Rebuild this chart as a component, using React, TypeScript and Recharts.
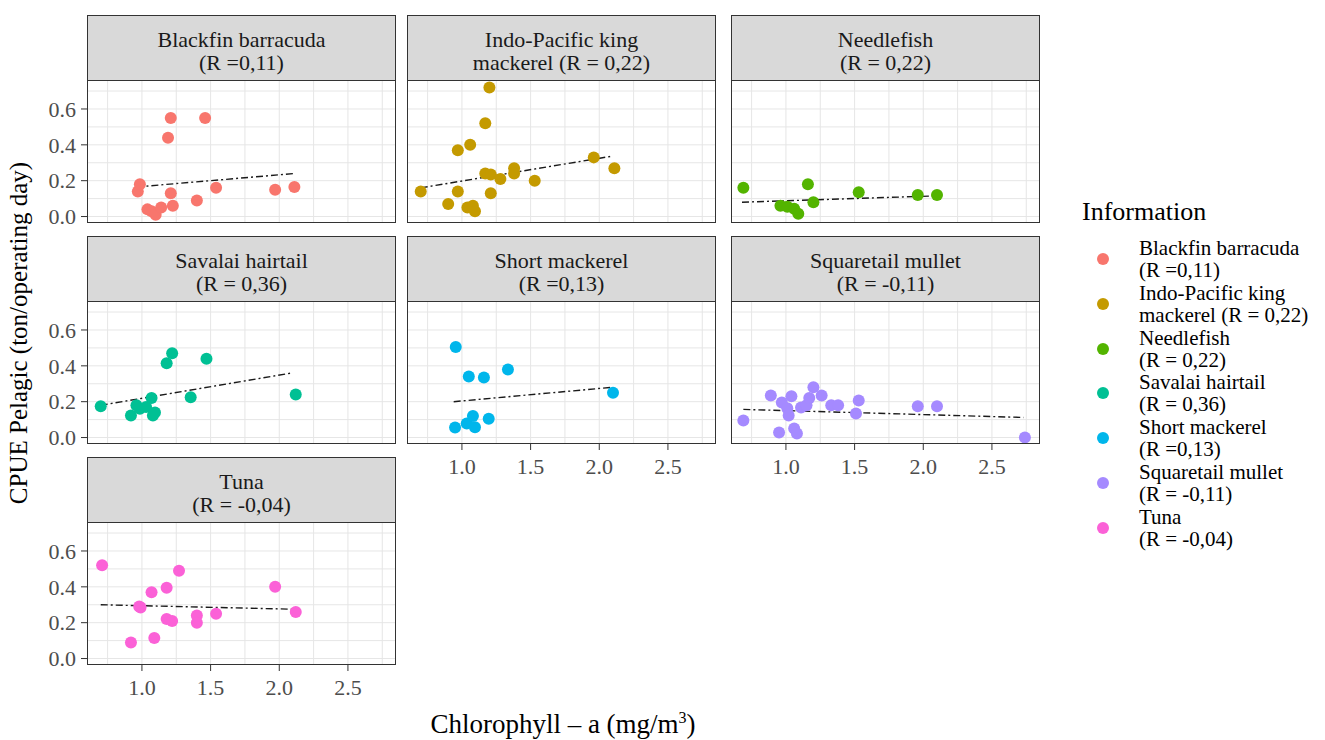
import {
  CartesianGrid,
  ReferenceLine,
  Scatter,
  ScatterChart,
  XAxis,
  YAxis,
} from "recharts";

// ggplot2 default hue palette, 7 levels
const COLORS = ["#F8766D", "#C49A00", "#53B400", "#00C094", "#00B6EB", "#A58AFF", "#FB61D7"];
const SERIF = '"Liberation Serif", "Times New Roman", serif';

const SPECIES = [
  "Blackfin barracuda",
  "Indo-Pacific king mackerel",
  "Needlefish",
  "Savalai hairtail",
  "Short mackerel",
  "Squaretail mullet",
  "Tuna",
];
// strip labels (two lines each, wrapped as in the figure)
const STRIP_LINES = [
  ["Blackfin barracuda", "(R =0,11)"],
  ["Indo-Pacific king", "mackerel (R = 0,22)"],
  ["Needlefish", "(R = 0,22)"],
  ["Savalai hairtail", "(R = 0,36)"],
  ["Short mackerel", "(R =0,13)"],
  ["Squaretail mullet", "(R = -0,11)"],
  ["Tuna", "(R = -0,04)"],
];

// chlorophyll-a (x) and CPUE (y)
const barracudaX = [0.97, 0.985, 1.04, 1.07, 1.1, 1.14, 1.19, 1.21, 1.21, 1.225, 1.4, 1.46, 1.54, 1.97, 2.11];
const barracudaY = [0.14, 0.18, 0.04, 0.03, 0.01, 0.05, 0.44, 0.55, 0.13, 0.06, 0.09, 0.55, 0.16, 0.15, 0.165];

const kingMackerelX = [0.7, 0.9, 0.97, 0.97, 1.06, 1.04, 1.08, 1.095, 1.17, 1.2, 1.17, 1.21, 1.21, 1.28, 1.38, 1.38, 1.53, 1.96, 2.11];
const kingMackerelY = [0.14, 0.07, 0.37, 0.14, 0.4, 0.05, 0.06, 0.03, 0.52, 0.72, 0.24, 0.235, 0.13, 0.21, 0.27, 0.24, 0.2, 0.33, 0.27];

const needlefishX = [0.69, 0.96, 1.01, 1.06, 1.09, 1.16, 1.2, 1.53, 1.96, 2.1];
const needlefishY = [0.16, 0.06, 0.055, 0.044, 0.016, 0.18, 0.08, 0.135, 0.12, 0.12];

const hairtailX = [0.7, 0.92, 0.96, 0.985, 1.03, 1.07, 1.08, 1.095, 1.18, 1.22, 1.355, 1.47, 2.12];
const hairtailY = [0.174, 0.123, 0.18, 0.16, 0.17, 0.22, 0.123, 0.14, 0.415, 0.47, 0.225, 0.44, 0.24];

const shortMackerelX = [0.955, 1.05, 1.16, 1.335, 0.95, 1.035, 1.08, 1.095, 1.195, 2.1];
const shortMackerelY = [0.505, 0.34, 0.335, 0.38, 0.056, 0.078, 0.12, 0.058, 0.105, 0.25];

const mulletX = [0.69, 0.89, 0.95, 0.97, 1.01, 1.02, 1.04, 1.06, 1.08, 1.11, 1.15, 1.17, 1.2, 1.26, 1.33, 1.38, 1.53, 1.51, 1.96, 2.1, 2.74];
const mulletY = [0.095, 0.235, 0.028, 0.196, 0.163, 0.123, 0.23, 0.05, 0.022, 0.168, 0.18, 0.22, 0.28, 0.235, 0.18, 0.18, 0.207, 0.134, 0.174, 0.174, 0.0];

const tunaX = [0.71, 0.98, 0.99, 0.92, 1.07, 1.09, 1.18, 1.18, 1.22, 1.27, 1.4, 1.4, 1.54, 1.97, 2.12];
const tunaY = [0.52, 0.29, 0.285, 0.09, 0.37, 0.115, 0.395, 0.22, 0.21, 0.49, 0.24, 0.2, 0.25, 0.4, 0.26];

// lm fit endpoints as drawn: [x0, y0, x1, y1]
const FITS = [
  [0.96, 0.165, 2.11, 0.24],
  [0.7, 0.16, 2.08, 0.335],
  [0.68, 0.08, 2.08, 0.115],
  [0.7, 0.18, 2.09, 0.36],
  [0.94, 0.2, 2.09, 0.28],
  [0.69, 0.157, 2.73, 0.112],
  [0.7, 0.3, 2.11, 0.275],
];

const SERIES_X = [barracudaX, kingMackerelX, needlefishX, hairtailX, shortMackerelX, mulletX, tunaX];
const SERIES_Y = [barracudaY, kingMackerelY, needlefishY, hairtailY, shortMackerelY, mulletY, tunaY];

const X_TICKS = [1.0, 1.5, 2.0, 2.5];
const Y_TICKS = [0.0, 0.2, 0.4, 0.6];
const X_GRID = [0.75, 1.0, 1.25, 1.5, 1.75, 2.0, 2.25, 2.5, 2.75];
const Y_GRID = [0.0, 0.1, 0.2, 0.3, 0.4, 0.5, 0.6, 0.7];
const X_DOMAIN: [number, number] = [0.6, 2.85];
const Y_DOMAIN: [number, number] = [-0.036, 0.756];

// layout
const COL_LEFT = [87, 407, 731];
const ROW_TOP = [15, 236, 457];
const PANEL_W = 309;
const STRIP_H = 66;
const PLOT_H = 142;
const Y_AXIS_W = 80;
const X_AXIS_H = 44;
const SPARE_H = 12; // room under panels without an x axis so the "0.0" label is not clipped

const TICK = { fill: "#4d4d4d", fontSize: 22, fontFamily: SERIF };

function Panel({ idx }: { idx: number }) {
  const row = Math.floor(idx / 3);
  const col = idx % 3;
  const showY = col === 0;
  const showX = idx >= 4;
  const color = COLORS[idx];
  const data = SERIES_X[idx].map((x, i) => ({ x, y: SERIES_Y[idx][i] }));
  const [x0, y0, x1, y1] = FITS[idx];
  const left = COL_LEFT[col];
  const top = ROW_TOP[row];

  return (
    <>
      <div style={{ position: "absolute", left: left - (showY ? Y_AXIS_W : 0), top: top + STRIP_H }}>
        <ScatterChart
          width={PANEL_W + (showY ? Y_AXIS_W : 0)}
          height={PLOT_H + (showX ? X_AXIS_H : SPARE_H)}
          margin={{ top: 0, right: 0, bottom: showX ? 0 : SPARE_H, left: 0 }}
        >
          <CartesianGrid stroke="#e6e6e6" strokeWidth={1} horizontalValues={Y_GRID} verticalValues={X_GRID} />
          <XAxis
            type="number"
            dataKey="x"
            domain={X_DOMAIN}
            ticks={X_TICKS}
            interval={0}
            tickFormatter={(v: number) => v.toFixed(1)}
            allowDataOverflow
            hide={!showX}
            height={X_AXIS_H}
            axisLine={false}
            tickLine={{ stroke: "#333333" }}
            tickSize={6}
            tickMargin={8}
            tick={TICK}
          />
          <YAxis
            type="number"
            dataKey="y"
            domain={Y_DOMAIN}
            ticks={Y_TICKS}
            interval={0}
            tickFormatter={(v: number) => v.toFixed(1)}
            allowDataOverflow
            hide={!showY}
            width={Y_AXIS_W}
            axisLine={false}
            tickLine={{ stroke: "#333333" }}
            tickSize={6}
            tickMargin={5}
            tick={TICK}
          />
          <Scatter
            data={data}
            isAnimationActive={false}
            shape={(p: any) => <circle cx={p.cx} cy={p.cy} r={6} fill={color} />}
          />
          <ReferenceLine
            segment={[
              { x: x0, y: y0 },
              { x: x1, y: y1 },
            ]}
            stroke="#1a1a1a"
            strokeWidth={1.4}
            strokeDasharray="7 3 2 3"
          />
        </ScatterChart>
      </div>
      {/* strip + panel border */}
      <div
        style={{
          position: "absolute",
          left,
          top,
          width: PANEL_W,
          height: STRIP_H + PLOT_H,
          border: "1.5px solid #333333",
          boxSizing: "border-box",
          pointerEvents: "none",
        }}
      >
        <div
          style={{
            height: STRIP_H - 1.5,
            background: "#d9d9d9",
            borderBottom: "1.5px solid #333333",
            display: "flex",
            flexDirection: "column",
            justifyContent: "center",
            alignItems: "center",
            fontFamily: SERIF,
            fontSize: 22,
            lineHeight: "23px",
            color: "#1a1a1a",
            paddingTop: 7,
            boxSizing: "border-box",
          }}
        >
          {STRIP_LINES[idx].map((l) => (
            <div key={l}>{l}</div>
          ))}
        </div>
      </div>
    </>
  );
}

function Legend() {
  return (
    <div style={{ position: "absolute", left: 1082, top: 197, fontFamily: SERIF, color: "#000" }}>
      <div style={{ fontSize: 26, lineHeight: "30px" }}>Information</div>
      {SPECIES.map((s, i) => (
        <div key={s} style={{ position: "absolute", left: 0, top: 40 + i * 44.8, width: 240 }}>
          <span
            style={{
              position: "absolute",
              left: 15,
              top: 16,
              width: 12,
              height: 12,
              borderRadius: 6,
              background: COLORS[i],
            }}
          />
          <div style={{ position: "absolute", left: 57, top: 0, fontSize: 21, lineHeight: "22px", whiteSpace: "nowrap" }}>
            {STRIP_LINES[i].map((l) => (
              <div key={l}>{l}</div>
            ))}
          </div>
        </div>
      ))}
    </div>
  );
}

export default function App() {
  return (
    <div
      style={{
        position: "absolute",
        left: 0,
        top: 0,
        width: 1325,
        height: 740,
        background: "#ffffff",
        overflow: "hidden",
        fontFamily: SERIF,
      }}
    >
      {SPECIES.map((s, i) => (
        <Panel key={s} idx={i} />
      ))}
      <div
        style={{
          position: "absolute",
          left: 19,
          top: 333,
          transform: "translate(-50%, -50%) rotate(-90deg)",
          fontSize: 25,
          whiteSpace: "nowrap",
          color: "#000",
        }}
      >
        CPUE Pelagic (ton/operating day)
      </div>
      <div
        style={{
          position: "absolute",
          left: 563,
          top: 724,
          transform: "translate(-50%, -50%)",
          fontSize: 27,
          whiteSpace: "nowrap",
          color: "#000",
        }}
      >
        Chlorophyll – a (mg/m<sup style={{ fontSize: 16 }}>3</sup>)
      </div>
      <Legend />
    </div>
  );
}
